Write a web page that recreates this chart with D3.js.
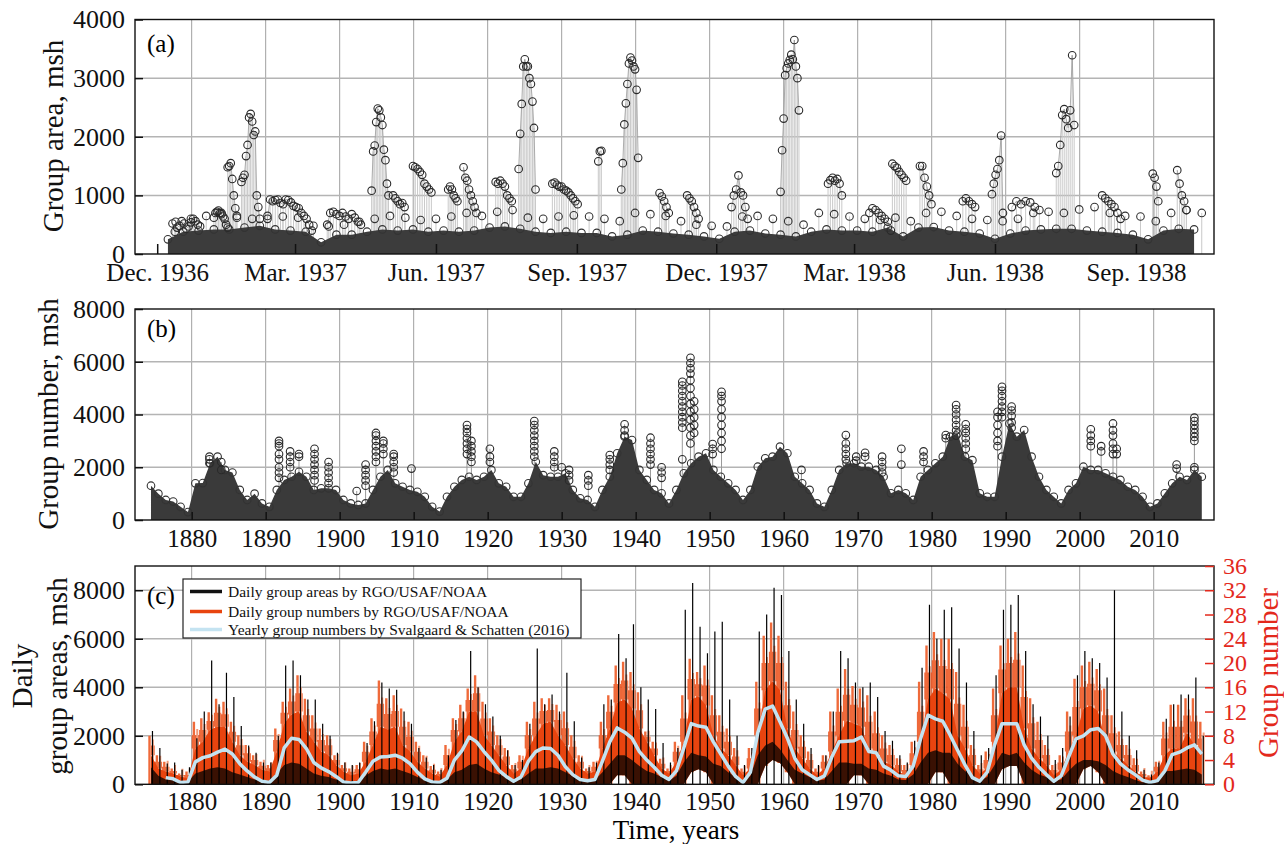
<!DOCTYPE html>
<html>
<head>
<meta charset="utf-8">
<script src="https://d3js.org/d3.v7.min.js"></script>
<style>
  body { margin: 0; background: #fff; }
  text { font-family: "Liberation Serif", "Times New Roman", serif; }
</style>
</head>
<body>
<svg id="chart" width="1284" height="844"></svg>
<script>
// ---------- panel (a): group areas, Dec 1936 - Oct 1938 ----------
var monthTickDates = ["1936-12-01","1937-03-01","1937-06-01","1937-09-01","1937-12-01","1938-03-01","1938-06-01","1938-09-01"];
var monthTickLabels = ["Dec. 1936","Mar. 1937","Jun. 1937","Sep. 1937","Dec. 1937","Mar. 1938","Jun. 1938","Sep. 1938"];
var areaTicksA = [0, 1000, 2000, 3000, 4000];

// upper edge of the dense band of small groups, one value every 10 days from bandStart
var bandStart = "1936-12-08";
var bandTop = [250,380,400,420,420,450,480,420,400,380,200,330,330,380,420,400,420,380,
  400,380,400,450,470,430,380,360,380,360,360,300,330,400,380,350,330,300,260,380,
  400,350,330,300,380,420,400,400,380,450,300,450,460,400,380,350,260,350,400,420,
  430,430,400,380,360,330,250,400,430,420];
// highest small groups just above the band, one value every 10 days from bandUpperStart
var bandUpperStart = "1936-12-13";
var bandUpper = [550,600,650,700,620,600,650,640,620,480,
  470,500,550,600,650,620,580,600,640,700,
  650,720,750,620,600,640,660,640,600,560,
  700,680,650,560,500,480,470,640,650,600,
  560,500,700,680,640,600,580,620,560,700,
  720,650,600,580,560,600,700,720,700,760,
  800,700,650,640,560,700,750,700];

// large groups followed day by day (start date, days between points, areas)
var groupTracks = [
  {start:"1936-12-11", step:1.5, v:[520,380,450,480,560,520,430,470,540,600,560,500,470]},
  {start:"1937-01-07", step:1.0, v:[620,700,720,740,700,680,640,600,500,450]},
  {start:"1937-01-16", step:1.0, v:[1480,1500,1550,1280,1000,780,650]},
  {start:"1937-01-25", step:1.0, v:[1230,1300,1350,1670,1860,2330,2390,2260,2030,2090,1000,800,600]},
  {start:"1937-02-11", step:1.7, v:[600,930,900,920,930,870,850,930,920,880,820,800,780,700,650,600,500,400]},
  {start:"1937-03-22", step:2.0, v:[500,700,720,680,650,700,640,600,680,620,550,500]},
  {start:"1937-04-20", step:1.0, v:[1080,1750,1850,2250,2480,2450,2330,2200,1780,1600,1200,1000]},
  {start:"1937-05-04", step:1.5, v:[1000,950,900,850,870,800]},
  {start:"1937-05-17", step:1.5, v:[1500,1480,1450,1400,1350,1200,1150,1100,1050]},
  {start:"1937-06-09", step:1.2, v:[1100,1150,1100,1000,950,900]},
  {start:"1937-06-19", step:1.2, v:[1480,1300,1250,1100,1000,900,800,700]},
  {start:"1937-07-10", step:1.5, v:[1230,1200,1250,1200,1150,1000,950,900]},
  {start:"1937-07-25", step:1.0, v:[1450,2050,2560,3200,3320,3200,3200,3000,2900,2600,2150,1100]},
  {start:"1937-08-16", step:1.5, v:[1200,1220,1180,1150,1150,1100,1080,1050,1000,950,900,850]},
  {start:"1937-09-15", step:1.0, v:[1580,1750,1760]},
  {start:"1937-09-30", step:1.0, v:[1100,1550,2210,2570,2900,3250,3350,3300,3200,3150,2800,1640]},
  {start:"1937-10-25", step:1.5, v:[1040,980,900,800,700]},
  {start:"1937-11-12", step:1.5, v:[1000,950,900,800,700,600]},
  {start:"1937-12-11", step:1.5, v:[800,1000,1100,1340,1050,1000,800,600]},
  {start:"1938-01-12", step:1.0, v:[1060,1770,2310,3050,3170,3250,3310,3400,3320,3650,3200,3000,2450]},
  {start:"1938-02-12", step:1.5, v:[1200,1260,1300,1250,1280,1200,1000]},
  {start:"1938-03-11", step:2.0, v:[700,780,750,700,650,600,550,400]},
  {start:"1938-03-26", step:1.5, v:[1540,1500,1470,1400,1350,1300,1250]},
  {start:"1938-04-13", step:1.5, v:[1500,1500,1300,1150,1000,850]},
  {start:"1938-05-11", step:2.0, v:[900,950,900,850,800]},
  {start:"1938-05-30", step:1.2, v:[1020,1200,1350,1450,1600,2020,700]},
  {start:"1938-06-12", step:3.0, v:[800,900,850,900,880,800,750]},
  {start:"1938-07-11", step:1.3, v:[1380,1500,1860,2370,2470,2300,2150,2450,3390,2200]},
  {start:"1938-08-10", step:2.0, v:[1000,950,900,850,800,700,600]},
  {start:"1938-09-12", step:1.2, v:[1370,1300,1150,900]},
  {start:"1938-09-28", step:1.5, v:[1430,1200,1000,900,750]}
];

// ---------- shared yearly axis for (b) and (c) ----------
var years = d3.range(1874, 2017);
var decadeTicks = d3.range(1880, 2011, 10);

// ---------- panel (b) ----------
var numTicksB = [0, 2000, 4000, 6000, 8000];
var numEnvelope = [1300,1000,760,700,500,300,1390,1400,2150,2400,
  1900,1800,1140,760,1000,630,500,1140,1520,1640,
  1830,1640,1140,1200,1200,1140,760,630,570,630,
  1140,1640,1900,1390,1260,1140,1070,880,500,320,
  880,1260,1520,1640,1520,1640,1900,1390,1260,880,
  880,1390,2210,1700,1640,1640,1770,1140,820,760,
  500,1140,1640,2530,3160,3030,1900,1520,1140,1010,
  630,1140,1770,2150,2400,2530,1900,1640,1390,1140,
  760,1140,2020,2340,2400,2780,2530,1640,1390,1140,
  630,500,1140,1900,2150,2150,2020,2020,1900,1640,
  1010,1140,1010,760,1640,1900,2150,2400,3160,3280,
  2400,2270,1010,880,880,2400,3660,3160,3410,2400,
  1640,1140,880,630,1140,1390,2020,1900,1900,1770,
  1640,1520,1260,1140,880,500,630,1010,1390,1640,
  1520,1900,1640];
// isolated high values seen above the dense mass: [year, values]
var numColumns = [
  [1882.4,[2400,2300,2150]], [1884.0,[2200,1900]],
  [1891.8,[3000,2900,2800,2500,2300,2000,1800,1600]], [1893.3,[2600,2400,2200,2000]],
  [1894.5,[2500,2400]], [1896.6,[2700,2500,2300,2100,1900,1700,1500]],
  [1898.5,[2200,2000,1800,1600,1400]], [1902.3,[1100]],
  [1903.5,[2100,1900,1700,1500,1300]], [1904.9,[3300,3200,3000,2800,2600,2400,2200]],
  [1905.9,[3000,2900,2700,2500]], [1907.3,[2500,2400,2200,2000,1800]], [1909.7,[1950]],
  [1917.2,[3600,3450,3300,3100,2900,2700,2500]], [1917.8,[3000,2800,2600,2400,2200]],
  [1920.3,[2700,2400,2200]], [1926.3,[3750,3600,3400,3200,3000,2800,2600,2400]],
  [1929.0,[2600,2400,2200,2000]], [1930.0,[2000]], [1931.0,[1900,1700,1500]],
  [1933.6,[1700,1500,1300]], [1936.5,[2460,2300,2100,1900]], [1938.5,[3630,3400,3200]],
  [1942.0,[3120,2900,2700,2500,2300,2100]], [1943.5,[2000,1800,1600]],
  [1946.3,[5240,5100,4900,4700,4500,4300,4100,3900,3700,3500,2300]],
  [1947.4,[6150,5950,5750,5550,5300,5000,4700,4400,4100,3800,3500,3200,2900]],
  [1947.9,[4500,4200,3900,3600,3300]], [1950.4,[2880,2700,2500]],
  [1951.6,[4860,4700,4500,4200,3900,3600,3300,3000,2700]], [1962.4,[1900]],
  [1968.4,[3220,2900,2700,2500,2300]], [1969.8,[2400,2250]], [1971.0,[2550,2400]],
  [1973.3,[2400,2200,2000,1800]], [1975.9,[2700,2100]], [1978.9,[2600,2400,2200]],
  [1981.9,[3220,3100]], [1983.3,[4360,4200,4000,3800,3600,3400,3200]],
  [1984.6,[3630,3450,3300,3100,2900,2700]], [1988.9,[4100,3900,3600,3300,3000,2800]],
  [1989.5,[5050,4900,4700,4500,4300,4100,3900]], [1990.8,[4300,4150,3950,3700,3500]],
  [2001.5,[3440,3200,3000,2800]], [2002.9,[2800,2600]],
  [2004.5,[3660,3400,3200,2900,2700,2500]], [2005.0,[2700,2500]],
  [2013.1,[2100,1950]], [2015.5,[3880,3750,3600,3450,3300,3150,3000,2000]]
];

// ---------- panel (c) ----------
var areaTicksC = [0, 2000, 4000, 6000, 8000];
var groupTicksC = [0, 4, 8, 12, 16, 20, 24, 28, 32, 36];
// daily group numbers: dense upper level and highest spikes, per year
var redTop = [4.8,2.6,2.1,1.8,1.3,1.0,5.9,7.0,9.0,9.5,
  9.5,7.0,4.8,3.7,3.2,2.4,2.1,5.4,10.0,11.5,
  12.0,8.7,7.0,5.4,4.8,3.2,2.1,1.5,1.8,3.7,
  6.5,9.5,9.0,9.5,6.5,5.4,3.7,2.6,1.8,1.3,
  3.2,7.0,8.7,12.0,12.0,8.1,6.5,4.8,3.2,1.8,
  2.6,5.9,8.1,10.0,10.3,8.1,6.5,4.3,2.6,1.8,
  2.1,5.9,9.2,13.5,14.0,12.5,9.2,7.0,4.8,2.6,
  1.8,3.7,7.0,14.0,14.5,13.0,8.1,5.9,4.8,3.2,
  1.5,2.6,8.1,15.5,17.0,15.5,9.2,5.9,4.3,2.6,
  1.5,2.6,5.4,8.1,10.5,10.0,9.5,5.9,4.8,3.7,
  3.2,2.1,1.5,3.2,7.0,14.0,15.8,15.0,14.0,8.1,
  5.9,3.2,1.8,2.6,7.0,15.0,16.0,16.0,9.2,5.9,
  4.3,3.2,1.5,2.4,5.4,8.1,12.5,13.0,12.0,7.0,
  5.4,4.3,3.2,2.1,1.3,1.0,2.1,4.8,5.9,5.9,
  8.5,6.5,4.8];
var redMax = [8.0,4.8,3.7,2.6,1.8,2.1,10.3,10.9,11.9,14.1,
  13.6,10.3,8.1,6.5,4.8,3.7,3.2,9.2,13.6,15.8,
  18.0,14.1,11.4,9.2,8.1,4.8,3.2,2.6,3.2,7.0,
  10.9,17.1,14.2,14.7,12.5,10.3,7.0,4.8,3.0,2.1,
  6.5,10.9,13.1,15.8,18.0,13.6,10.9,8.1,6.0,3.2,
  4.8,10.3,13.6,14.2,14.2,13.1,12.0,8.1,4.8,2.6,
  3.7,10.3,14.7,19.6,20.2,18.5,15.2,8.7,7.0,4.2,
  2.6,7.0,14.7,20.7,18.5,19.6,14.7,11.4,9.2,6.0,
  2.6,6.0,16.9,24.5,26.7,24.5,16.9,12.0,8.1,5.4,
  2.6,4.8,12.0,15.8,19.0,16.2,15.8,14.7,12.0,8.1,
  6.5,4.3,3.2,7.0,16.9,22.9,25.1,24.0,24.0,18.5,
  13.1,6.5,3.2,5.4,15.8,22.9,24.0,25.1,19.6,14.2,
  10.3,6.5,3.2,4.8,12.0,17.4,19.6,20.2,19.0,15.8,
  11.4,8.7,6.5,4.3,2.1,1.5,3.7,10.3,13.1,13.1,
  14.2,14.2,10.3];
// years where the daily group number never fell to zero: [year, lowest count]
var redFloor = [[1937,1.5],[1938,1.5],[1947,2.0],[1948,2.5],[1949,2.0],
  [1957,3.0],[1958,4.0],[1959,3.5],[1960,2.0],[1969,1.5],[1970,1.5],
  [1980,2.0],[1981,2.0],[1989,2.5],[1990,3.0],[1991,3.0],
  [2000,2.5],[2001,3.0],[2002,2.0]];
// daily group areas: dense upper level and highest spikes, per year (msh)
var blackTop = [700,350,200,180,120,120,450,550,650,700,
  650,500,400,300,200,150,150,450,800,900,
  850,650,450,350,300,200,150,120,150,350,
  550,650,600,650,550,450,300,180,120,120,
  200,500,600,800,850,650,500,400,300,150,
  200,450,650,650,700,650,500,350,200,150,
  180,500,850,1200,1200,1000,750,550,450,300,
  150,350,900,1300,1200,1150,850,750,500,300,
  120,350,1200,1600,1750,1450,1000,600,450,300,
  150,200,550,900,900,850,850,650,600,450,
  350,200,180,400,900,1300,1400,1300,1300,850,
  550,300,150,300,800,1300,1200,1300,900,600,
  400,300,150,200,550,850,1000,1000,950,800,
  550,400,300,180,80,80,200,550,550,600,
  650,600,400];
var blackMax = [2200,1500,860,900,600,700,1900,3000,5100,3300,
  4600,3600,2400,1600,1300,900,900,2000,4900,5100,
  4500,3500,3500,2500,2000,1300,900,800,900,1700,
  2600,4200,3950,3900,3000,2500,1500,1100,800,600,
  1200,2650,3000,5500,4000,3300,2800,2000,1400,800,
  1000,2500,5600,3300,3700,3000,4600,2600,1100,700,
  900,3300,3500,6200,5200,6600,4000,3500,3100,1700,
  900,1500,7200,8300,6500,5400,6300,6700,3500,2000,
  800,1500,6300,7000,8100,7800,5500,3500,2500,1500,
  800,1200,3000,5500,5200,4200,4000,4200,3600,2200,
  1800,1200,900,1800,4800,7400,6000,7200,7300,5600,
  4200,2200,1200,1500,4500,7200,7400,7800,5500,3300,
  2800,2000,1000,1500,2800,4500,5500,5200,5000,4400,
  8000,3000,2000,1400,600,400,900,2700,3300,3700,
  3700,4400,2000];
// yearly group numbers, Svalgaard & Schatten (2016)
var ssYears = d3.range(1876, 2017);
var ssGroups = [1.1,0.9,0.3,0.4,3.7,4.4,4.7,5.3,5.8,5.0,
  3.4,2.2,1.2,0.5,0.3,1.5,6.0,7.6,7.4,5.9,
  3.6,2.7,2.1,1.3,0.4,0.2,0.3,2.0,3.8,4.5,
  4.6,4.8,4.3,3.4,2.0,0.9,0.4,0.3,1.0,4.0,
  5.5,7.8,7.0,5.4,4.0,2.3,1.3,0.5,1.2,3.8,
  5.4,6.0,5.9,4.8,2.9,1.6,0.8,0.6,0.8,3.8,
  7.0,9.3,8.6,7.6,5.4,4.0,2.8,1.5,0.8,2.2,
  6.0,10.0,9.6,9.4,7.0,5.0,3.0,1.3,0.3,2.0,
  8.5,12.4,12.9,10.3,7.6,4.3,2.4,1.6,0.8,1.4,
  4.5,7.0,7.1,7.2,7.8,5.4,5.2,3.0,2.3,1.4,
  1.3,3.0,7.5,11.4,10.8,10.4,8.1,5.6,3.2,1.1,
  0.5,2.0,6.5,10.0,10.0,10.0,6.5,4.3,2.8,1.6,
  0.5,1.4,4.5,7.5,8.0,9.0,9.2,8.0,5.0,3.4,
  2.4,1.6,0.7,0.3,0.6,2.2,4.9,5.3,6.0,6.5,5.0];
var legendLabels = ["Daily group areas by RGO/USAF/NOAA",
  "Daily group numbers by RGO/USAF/NOAA",
  "Yearly group numbers by Svalgaard & Schatten (2016)"];
var legendColors = ["#111111", "#e8440f", "#c4e3f1"];

// ---------- drawing ----------
var svg = d3.select("#chart");
var L = 135, R = 1214;
var red = "#e3291c";
var parseDay = d3.timeParse("%Y-%m-%d");
var fmt = d3.format("d");

var xA = d3.scaleTime().domain([new Date(1936, 10, 16, 12), new Date(1938, 9, 22)]).range([L, R]);
var xY = d3.scaleLinear().domain([1872.34, 2018.15]).range([L, R]);
var yA = d3.scaleLinear().domain([0, 4000]).range([254, 19.5]);
var yB = d3.scaleLinear().domain([0, 8000]).range([520, 309]);
var yC = d3.scaleLinear().domain([0, 9000]).range([784.3, 566]);
var yCR = d3.scaleLinear().domain([0, 36]).range([784.3, 566]);

function grid(yScale, yVals, top, bottom) {
  var g = svg.append("g");
  g.selectAll(".v").data(decadeTicks).enter().append("line")
    .attr("x1", d => xY(d)).attr("x2", d => xY(d))
    .attr("y1", top).attr("y2", bottom)
    .attr("stroke", "#a0a0a0").attr("stroke-width", 1);
  g.selectAll(".h").data(yVals).enter().append("line")
    .attr("x1", L).attr("x2", R)
    .attr("y1", d => yScale(d)).attr("y2", d => yScale(d))
    .attr("stroke", "#b4b4b4").attr("stroke-width", 1.5);
}
function clip(id, top, bottom) {
  svg.append("clipPath").attr("id", id).append("rect")
    .attr("x", L).attr("y", top).attr("width", R - L).attr("height", bottom - top);
  return svg.append("g").attr("clip-path", "url(#" + id + ")");
}
function frame(top, bottom) {
  svg.append("rect").attr("x", L).attr("y", top).attr("width", R - L).attr("height", bottom - top)
    .attr("fill", "none").attr("stroke", "#111").attr("stroke-width", 1.4);
}
function styleAxis(g, size, color) {
  g.select(".domain").remove();
  g.selectAll("text").attr("font-family", "Liberation Serif").attr("font-size", size).attr("fill", color || "#111");
  g.selectAll("line").attr("stroke", color || "#111").attr("stroke-width", 1.5);
}
function yTitle(text, x, y, color) {
  svg.append("text").attr("transform", "translate(" + x + "," + y + ") rotate(-90)")
    .attr("text-anchor", "middle").attr("dominant-baseline", "central")
    .attr("font-size", 29).attr("fill", color || "#111").text(text);
}
function openCircles(g, data, x, y, col) {
  g.selectAll(null).data(data).enter().append("circle")
    .attr("cx", x).attr("cy", y).attr("r", 3.8)
    .attr("fill", "none").attr("stroke", col).attr("stroke-width", 1.1);
}

// ===== panel (a) =====
grid(yA, [1000, 2000, 3000], 19.5, 254);
var gA = clip("clipA", 19.5, 254);
var pts = [];
groupTracks.forEach(function (t) {
  var s = parseDay(t.start);
  t.pts = t.v.map((v, i) => ({ date: new Date(s.getTime() + i * t.step * 864e5), v: v }));
  pts = pts.concat(t.pts);
});
var u0 = parseDay(bandUpperStart);
var upper = bandUpper.map((v, i) => ({ date: d3.timeDay.offset(u0, i * 10), v: v }));
gA.selectAll(".stem").data(pts.concat(upper)).enter().append("line")
  .attr("x1", d => xA(d.date)).attr("x2", d => xA(d.date))
  .attr("y1", yA(0)).attr("y2", d => yA(d.v))
  .attr("stroke", "#c9c9c9").attr("stroke-width", 1);
var trackLine = d3.line().x(d => xA(d.date)).y(d => yA(d.v));
gA.selectAll(".track").data(groupTracks).enter().append("path")
  .attr("d", d => trackLine(d.pts)).attr("fill", "none")
  .attr("stroke", "#9a9a9a").attr("stroke-width", 0.8);
var b0 = parseDay(bandStart);
var band = bandTop.map((v, i) => ({ date: d3.timeDay.offset(b0, i * 10), v: v }));
gA.append("path").datum(band)
  .attr("d", d3.area().x(d => xA(d.date)).y0(yA(0)).y1(d => yA(d.v)))
  .attr("fill", "#3c3c3c");
openCircles(gA, band, d => xA(d.date), d => yA(d.v), "#333");
openCircles(gA, upper, d => xA(d.date), d => yA(d.v), "#333");
openCircles(gA, pts, d => xA(d.date), d => yA(d.v), "#2a2a2a");
frame(19.5, 254);
var axA = svg.append("g").attr("transform", "translate(" + L + ",0)")
  .call(d3.axisLeft(yA).tickValues(areaTicksA).tickFormat(fmt).tickSize(-8).tickPadding(10));
styleAxis(axA, 26);
var axAb = svg.append("g").attr("transform", "translate(0,254)")
  .call(d3.axisBottom(xA).tickValues(monthTickDates.map(parseDay))
    .tickFormat((d, i) => monthTickLabels[i]).tickSize(-10).tickPadding(9));
styleAxis(axAb, 25);
svg.append("text").attr("x", 147).attr("y", 52).attr("font-size", 25).text("(a)");
yTitle("Group area, msh", 53, 136);

// ===== panel (b) =====
grid(yB, [2000, 4000, 6000], 309, 520);
var gB = clip("clipB", 309, 520);
var env = years.map((y, i) => ({ x: y + 0.5, v: numEnvelope[i] }));
gB.selectAll(".col").data(numColumns).enter().append("line")
  .attr("x1", d => xY(d[0])).attr("x2", d => xY(d[0]))
  .attr("y1", yB(0)).attr("y2", d => yB(d3.max(d[1])))
  .attr("stroke", "#9a9a9a").attr("stroke-width", 1);
gB.append("path").datum(env)
  .attr("d", d3.area().x(d => xY(d.x)).y0(yB(0)).y1(d => yB(d.v)))
  .attr("fill", "#3a3a3a");
openCircles(gB, env, d => xY(d.x), d => yB(d.v), "#333");
var colPts = [];
numColumns.forEach(c => c[1].forEach(v => colPts.push({ x: c[0], v: v })));
openCircles(gB, colPts, d => xY(d.x), d => yB(d.v), "#2a2a2a");
frame(309, 520);
var axB = svg.append("g").attr("transform", "translate(" + L + ",0)")
  .call(d3.axisLeft(yB).tickValues(numTicksB).tickFormat(fmt).tickSize(-8).tickPadding(10));
styleAxis(axB, 26);
var axBb = svg.append("g").attr("transform", "translate(0,520)")
  .call(d3.axisBottom(xY).tickValues(decadeTicks).tickFormat(fmt).tickSize(-8).tickPadding(9));
styleAxis(axBb, 25);
svg.append("text").attr("x", 147).attr("y", 337).attr("font-size", 25).text("(b)");
yTitle("Group number, msh", 48, 414);

// ===== panel (c) =====
grid(yC, [2000, 4000, 6000, 8000], 566, 784.3);
var gC = clip("clipC", 566, 784.3);
var rf = new Map(redFloor);
var cData = years.map((y, i) => ({
  y: y, rTop: redTop[i], rMax: redMax[i], lo: rf.get(y) || 0,
  bTop: blackTop[i], bMax: blackMax[i]
}));
// orange fringe between the dense level and the highest daily counts (ragged, stepped)
gC.append("path").datum(cData)
  .attr("d", d3.area().x(d => xY(d.y + 0.5)).y0(d => yCR(d.rTop)).y1(d => yCR((d.rTop + d.rMax) / 2))
    .curve(d3.curveStep))
  .attr("fill", "#ea4c18").attr("fill-opacity", 0.85);
gC.selectAll(".rs").data(cData).enter().append("line")
  .attr("x1", d => xY(d.y + 0.3)).attr("x2", d => xY(d.y + 0.3))
  .attr("y1", d => yCR(d.lo)).attr("y2", d => yCR(d.rMax))
  .attr("stroke", "#ef6a3a").attr("stroke-width", 2.4);
gC.selectAll(".rs2").data(cData).enter().append("line")
  .attr("x1", d => xY(d.y + 0.75)).attr("x2", d => xY(d.y + 0.75))
  .attr("y1", d => yCR(d.lo)).attr("y2", d => yCR((d.rTop + d.rMax) / 2 + 1))
  .attr("stroke", "#f39a78").attr("stroke-width", 2);
gC.append("path").datum(cData)
  .attr("d", d3.area().x(d => xY(d.y + 0.5)).y0(d => yCR(d.lo)).y1(d => yCR(d.rTop)))
  .attr("fill", "#e8440f");
gC.append("path").datum(cData)
  .attr("d", d3.area().x(d => xY(d.y + 0.5)).y0(d => yC(d.lo * 250)).y1(d => yC(Math.max(d.bTop, d.lo * 250))))
  .attr("fill", "#000").attr("fill-opacity", 0.75);
gC.selectAll(".bs").data(cData).enter().append("line")
  .attr("x1", d => xY(d.y + 0.7)).attr("x2", d => xY(d.y + 0.7))
  .attr("y1", yC(0)).attr("y2", d => yC(d.bMax))
  .attr("stroke", "#000").attr("stroke-width", 1.2);
gC.append("path").datum(ssYears.map((y, i) => ({ y: y, g: ssGroups[i] })))
  .attr("d", d3.line().x(d => xY(d.y + 0.5)).y(d => yCR(d.g)))
  .attr("fill", "none").attr("stroke", "#c4e3f1").attr("stroke-width", 3.5)
  .attr("stroke-linejoin", "round");
frame(566, 784.3);
var axC = svg.append("g").attr("transform", "translate(" + L + ",0)")
  .call(d3.axisLeft(yC).tickValues(areaTicksC).tickFormat(fmt).tickSize(-8).tickPadding(10));
styleAxis(axC, 26);
var axCr = svg.append("g").attr("transform", "translate(" + R + ",0)")
  .call(d3.axisRight(yCR).tickValues(groupTicksC).tickSize(-9).tickPadding(9));
styleAxis(axCr, 24, red);
var axCb = svg.append("g").attr("transform", "translate(0,784.3)")
  .call(d3.axisBottom(xY).tickValues(decadeTicks).tickFormat(fmt).tickSize(0).tickPadding(8));
styleAxis(axCb, 25);
svg.append("text").attr("x", 147).attr("y", 604).attr("font-size", 25).text("(c)");
yTitle("Daily", 22, 676);
yTitle("group areas, msh", 57, 676);
yTitle("Group number", 1268, 673, red);
svg.append("text").attr("x", 676).attr("y", 839).attr("text-anchor", "middle")
  .attr("font-size", 27).text("Time, years");

// legend
var lg = svg.append("g");
lg.append("rect").attr("x", 183).attr("y", 579).attr("width", 398).attr("height", 59)
  .attr("fill", "#fff").attr("stroke", "#222").attr("stroke-width", 1.2);
var rowY = [591.5, 611.5, 629.5];
lg.selectAll(".ll").data(legendLabels).enter().append("line")
  .attr("x1", 190).attr("x2", 222)
  .attr("y1", (d, i) => rowY[i]).attr("y2", (d, i) => rowY[i])
  .attr("stroke", (d, i) => legendColors[i]).attr("stroke-width", 3.5);
lg.selectAll(".lt").data(legendLabels).enter().append("text")
  .attr("x", 228).attr("y", (d, i) => rowY[i] + 5)
  .attr("font-size", 15.5).attr("fill", "#111").text(d => d);
</script>
</body>
</html>
